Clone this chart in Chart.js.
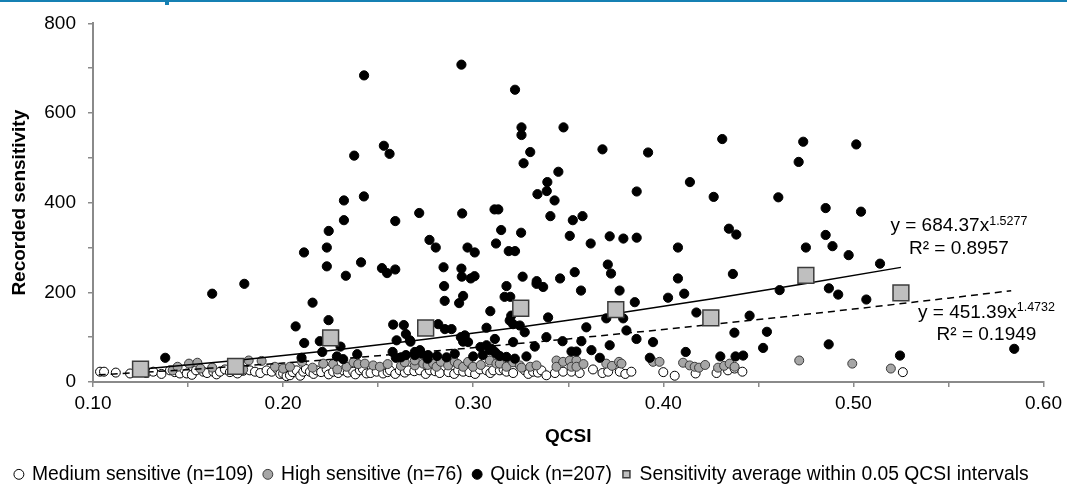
<!DOCTYPE html>
<html lang="en">
<head>
  <meta charset="UTF-8" />
  <title>QCSI vs recorded sensitivity</title>
  <script src="https://cdn.jsdelivr.net/npm/chart.js@4.4.0/dist/chart.umd.min.js"></script>
  <style>
    html, body { margin: 0; padding: 0; background: #fff; overflow: hidden; }
    #wrap { position: relative; width: 1067px; height: 488px; }
    #topline { position: absolute; left: 0; top: 0; width: 1067px; height: 2px; background: #1580b3; }
    #topmark { position: absolute; left: 165px; top: 0; width: 4px; height: 5px; background: #1580b3; }
  </style>
</head>
<body>
  <div id="wrap">
    <canvas id="chart"></canvas>
    <div id="topline"></div>
    <div id="topmark"></div>
  </div>

  <script>
    // [QCSI, recorded sensitivity]
    const mediumPts = [
      [0.1037,23],[0.1058,23],[0.1120,21],[0.1195,19],[0.1280,20],[0.1317,23],[0.1360,18],[0.1405,26],
      [0.1430,22],[0.1457,19],[0.1480,28],[0.1493,19],[0.1520,16],[0.1542,26],[0.1580,23],[0.1600,20],
      [0.1633,23],[0.1650,17],[0.1668,23],[0.1694,28],[0.1720,22],[0.1760,19],[0.1790,25],[0.1825,26],
      [0.1852,23],[0.1880,20],[0.1913,26],[0.1940,23],[0.1970,28],[0.1985,18],[0.2000,19],[0.2018,13],
      [0.2036,15],[0.2050,22],[0.2071,26],[0.2090,14],[0.2106,23],[0.2120,29],[0.2141,23],[0.2160,18],
      [0.2176,26],[0.2200,22],[0.2229,28],[0.2240,17],[0.2263,23],[0.2290,20],[0.2316,26],[0.2340,21],
      [0.2369,23],[0.2380,17],[0.2404,26],[0.2420,29],[0.2439,19],[0.2460,20],[0.2492,23],[0.2526,19],
      [0.2550,22],[0.2562,26],[0.2590,18],[0.2614,26],[0.2640,21],[0.2658,26],[0.2690,24],[0.2719,26],
      [0.2750,18],[0.2772,26],[0.2800,24],[0.2824,20],[0.2870,22],[0.2900,18],[0.2921,26],[0.2947,23],
      [0.2980,22],[0.3010,18],[0.3035,28],[0.3070,26],[0.3090,20],[0.3105,26],[0.3140,26],[0.3160,28],
      [0.3175,23],[0.3210,20],[0.3271,26],[0.3290,18],[0.3315,23],[0.3340,21],[0.3359,26],[0.3385,15],
      [0.3430,20],[0.3473,23],[0.3517,23],[0.3560,20],[0.3630,28],[0.3680,20],[0.3710,23],[0.3771,23],
      [0.3800,18],[0.3832,23],[0.4000,22],[0.4060,14],[0.4170,19],[0.4280,20],[0.4340,26],[0.4375,30],
      [0.4416,23],[0.5260,22]
    ];
    const highPts = [
      [0.1419,26],[0.1445,34],[0.1505,41],[0.1549,43],[0.1565,30],[0.1627,32],[0.1735,36],[0.1790,28],
      [0.1819,48],[0.1887,47],[0.1957,34],[0.2000,30],[0.2036,34],[0.2100,45],[0.2155,32],[0.2211,41],
      [0.2263,40],[0.2285,28],[0.2334,34],[0.2370,44],[0.2395,40],[0.2430,41],[0.2474,37],[0.2509,34],
      [0.2550,40],[0.2620,36],[0.2640,44],[0.2693,37],[0.2693,48],[0.2737,41],[0.2760,38],[0.2789,41],
      [0.2807,34],[0.2830,45],[0.2868,37],[0.2903,45],[0.2920,40],[0.2947,34],[0.2973,45],[0.2999,34],
      [0.3040,38],[0.3087,48],[0.3122,41],[0.3140,41],[0.3175,34],[0.3210,44],[0.3245,37],[0.3254,32],
      [0.3300,34],[0.3333,37],[0.3438,48],[0.3438,34],[0.3473,45],[0.3508,48],[0.3517,34],[0.3543,48],
      [0.3543,34],[0.3580,40],[0.3700,41],[0.3730,36],[0.3767,45],[0.3780,41],[0.3946,45],[0.3980,45],
      [0.4104,43],[0.4139,37],[0.4165,34],[0.4188,32],[0.4220,38],[0.4288,32],[0.4320,36],[0.4349,41],
      [0.4375,34],[0.4715,48],[0.4994,41],[0.5197,30]
    ];
    const quickPts = [
      [0.1380,54],[0.1627,197],[0.1796,219],[0.2066,124],[0.2097,54],[0.2110,289],[0.2111,87],[0.2155,177],
      [0.2193,91],[0.2206,67],[0.2230,300],[0.2230,258],[0.2239,138],[0.2240,337],[0.2283,57],[0.2302,79],
      [0.2316,51],[0.2320,405],[0.2320,361],[0.2330,237],[0.2374,505],[0.2390,62],[0.2410,267],[0.2425,414],
      [0.2426,684],[0.2520,254],[0.2530,527],[0.2547,243],[0.2560,509],[0.2576,67],[0.2579,128],[0.2590,359],
      [0.2590,251],[0.2593,54],[0.2597,93],[0.2620,55],[0.2635,127],[0.2646,107],[0.2646,60],[0.2667,93],
      [0.2670,90],[0.2693,60],[0.2693,67],[0.2720,71],[0.2716,377],[0.2728,63],[0.2760,52],[0.2763,60],
      [0.2770,317],[0.2803,300],[0.2810,58],[0.2816,129],[0.2844,256],[0.2847,214],[0.2850,181],[0.2851,118],
      [0.2860,55],[0.2886,118],[0.2903,63],[0.2926,176],[0.2935,100],[0.2938,708],[0.2938,253],[0.2940,235],
      [0.2942,376],[0.2947,192],[0.2947,90],[0.2956,104],[0.2970,300],[0.2973,89],[0.2987,231],[0.3000,57],
      [0.3007,236],[0.3008,289],[0.3038,78],[0.3050,60],[0.3070,121],[0.3070,82],[0.3087,71],[0.3090,158],
      [0.3096,74],[0.3112,385],[0.3114,96],[0.3114,67],[0.3120,309],[0.3122,63],[0.3132,385],[0.3140,58],
      [0.3147,339],[0.3165,190],[0.3175,214],[0.3175,56],[0.3187,292],[0.3192,137],[0.3195,190],[0.3200,148],
      [0.3210,129],[0.3210,89],[0.3219,52],[0.3220,652],[0.3220,292],[0.3245,126],[0.3252,333],[0.3254,568],
      [0.3254,551],[0.3260,235],[0.3265,488],[0.3271,111],[0.3280,57],[0.3300,513],[0.3324,79],[0.3333,219],
      [0.3334,225],[0.3338,419],[0.3368,212],[0.3385,100],[0.3387,426],[0.3390,446],[0.3394,144],[0.3406,370],
      [0.3428,405],[0.3448,469],[0.3457,231],[0.3470,91],[0.3475,568],[0.3508,326],[0.3517,68],[0.3524,361],
      [0.3534,245],[0.3543,68],[0.3567,204],[0.3569,91],[0.3575,370],[0.3595,122],[0.3618,309],[0.3622,71],
      [0.3666,54],[0.3680,519],[0.3700,142],[0.3708,262],[0.3718,325],[0.3718,82],[0.3725,242],[0.3770,204],
      [0.3789,142],[0.3790,320],[0.3806,115],[0.3850,178],[0.3859,96],[0.3860,425],[0.3860,322],[0.3920,512],
      [0.3929,54],[0.3946,89],[0.4025,188],[0.4077,300],[0.4077,231],[0.4110,197],[0.4118,67],[0.4140,446],
      [0.4174,155],[0.4265,413],[0.4300,57],[0.4310,542],[0.4345,342],[0.4366,241],[0.4374,110],[0.4380,57],
      [0.4384,329],[0.4420,59],[0.4454,148],[0.4525,76],[0.4545,112],[0.4605,412],[0.4612,205],[0.4712,491],
      [0.4736,536],[0.4750,300],[0.4854,388],[0.4854,328],[0.4870,84],[0.4871,209],[0.4890,303],[0.4920,195],
      [0.4975,283],[0.5015,530],[0.5040,380],[0.5068,184],[0.5140,264],[0.5245,59],[0.5846,74]
    ];

    // averages within 0.05 QCSI intervals
    const avgX = [0.125, 0.175, 0.225, 0.275, 0.325, 0.375, 0.425, 0.475, 0.525];
    const avgY = [28.6, 35, 98.5, 120.5, 164.6, 161.5, 143, 238, 199];

    // trendline read at a few points (fit to the averages, solid)
    const avgFitX = [0.125, 0.175, 0.225, 0.275, 0.325, 0.375, 0.425, 0.475, 0.525];
    const avgFitY = [28.6, 47.7, 70.1, 95.2, 122.9, 152.9, 185.2, 219.5, 255.7];
    // trendline fit to all points (dashed)
    const allFitX = [0.103, 0.15, 0.20, 0.25, 0.30, 0.35, 0.40, 0.45, 0.50, 0.55, 0.583];
    const allFitY = [15.9, 27.6, 42.2, 58.5, 76.6, 96.1, 117.1, 139.2, 162.6, 187.1, 203.6];

    const seriesNames = [
      'Medium sensitive (n=109)',
      'High sensitive (n=76)',
      'Quick (n=207)',
      'Sensitivity average within 0.05 QCSI intervals'
    ];

    const FONT = "'Liberation Sans', Arial, sans-serif";
    Chart.defaults.font.family = FONT;
    Chart.defaults.color = '#000';

    const toXY = pts => pts.map(p => ({ x: p[0], y: p[1] }));
    const zipXY = (xs, ys) => xs.map((x, i) => ({ x, y: ys[i] }));

    // equation labels next to the trendlines
    const equationLabels = {
      id: 'equationLabels',
      afterDatasetsDraw(chart) {
        const { ctx, scales: { x, y } } = chart;
        const eqs = [
          { cx: 0.5555, y1: 348, y2: 298, coef: '684.37', pow: '1.5277', r2: '0.8957' },
          { cx: 0.5700, y1: 155, y2: 106, coef: '451.39', pow: '1.4732', r2: '0.1949' }
        ];
        ctx.save();
        ctx.fillStyle = '#000';
        ctx.textBaseline = 'middle';
        ctx.textAlign = 'left';
        eqs.forEach(e => {
          const main = 'y = ' + e.coef + 'x';
          ctx.font = '19px ' + FONT;
          const wMain = ctx.measureText(main).width;
          ctx.font = '12.5px ' + FONT;
          const wPow = ctx.measureText(e.pow).width;
          const cx = x.getPixelForValue(e.cx);
          const left = cx - (wMain + wPow) / 2;
          const py1 = y.getPixelForValue(e.y1);
          ctx.font = '19px ' + FONT;
          ctx.fillText(main, left, py1);
          ctx.font = '12.5px ' + FONT;
          ctx.fillText(e.pow, left + wMain, py1 - 4.5);
          ctx.font = '19px ' + FONT;
          ctx.textAlign = 'center';
          ctx.fillText('R\u00b2 = ' + e.r2, cx, y.getPixelForValue(e.y2));
          ctx.textAlign = 'left';
        });
        ctx.restore();
      }
    };

    const axisGray = '#8a8a8a';

    new Chart(document.getElementById('chart'), {
      type: 'scatter',
      data: {
        datasets: [
          {
            label: seriesNames[0],
            data: toXY(mediumPts),
            pointStyle: 'circle',
            pointRadius: 4.5,
            borderWidth: 1,
            backgroundColor: '#ffffff',
            borderColor: '#000000',
            order: 5
          },
          {
            label: seriesNames[1],
            data: toXY(highPts),
            pointStyle: 'circle',
            pointRadius: 4.5,
            borderWidth: 1,
            backgroundColor: '#a6a6a6',
            borderColor: '#3a3a3a',
            order: 4
          },
          {
            label: seriesNames[2],
            data: toXY(quickPts),
            pointStyle: 'circle',
            pointRadius: 4.6,
            borderWidth: 1,
            backgroundColor: '#000000',
            borderColor: '#000000',
            order: 3
          },
          {
            label: seriesNames[3],
            data: zipXY(avgX, avgY),
            pointStyle: 'rect',
            pointRadius: 11.2,
            borderWidth: 1.5,
            backgroundColor: '#bfbfbf',
            borderColor: '#3c3c3c',
            order: 1
          },
          {
            label: 'fit averages',
            data: zipXY(avgFitX, avgFitY),
            showLine: true,
            pointRadius: 0,
            borderColor: '#000',
            borderWidth: 1.5,
            order: 2
          },
          {
            label: 'fit all',
            data: zipXY(allFitX, allFitY),
            showLine: true,
            pointRadius: 0,
            borderColor: '#000',
            borderWidth: 1.5,
            borderDash: [7, 5],
            order: 2
          }
        ]
      },
      options: {
        responsive: true,
        maintainAspectRatio: false,
        animation: false,
        events: [],
        layout: { padding: { top: 19, right: 23, bottom: -6, left: 0 } },
        scales: {
          x: {
            type: 'linear',
            min: 0.1,
            max: 0.6,
            border: { display: true, color: axisGray, width: 2 },
            grid: { drawOnChartArea: false, drawTicks: true, tickLength: 5, color: axisGray, lineWidth: 1.5 },
            ticks: {
              stepSize: 0.05,
              autoSkip: false,
              maxRotation: 0,
              padding: 5,
              font: { size: 19 },
              callback: v => (Math.round(v * 100) % 10 === 0 ? v.toFixed(2) : '')
            },
            title: {
              display: true,
              text: 'QCSI',
              font: { size: 19, weight: 'bold' },
              padding: { top: 0, bottom: 6 }
            },
            afterFit: s => { s.height = 71.7; }
          },
          y: {
            min: 0,
            max: 800,
            border: { display: true, color: axisGray, width: 2 },
            grid: { drawOnChartArea: false, drawTicks: true, tickLength: 5, color: axisGray, lineWidth: 1.5 },
            ticks: {
              stepSize: 100,
              padding: 12,
              font: { size: 19 },
              callback: v => (v % 200 === 0 ? v : '')
            },
            title: {
              display: true,
              text: 'Recorded sensitivity',
              font: { size: 19, weight: 'bold' },
              padding: { top: 8, bottom: 0 }
            },
            afterFit: s => { s.width = 93; }
          }
        },
        plugins: {
          tooltip: { enabled: false },
          legend: {
            position: 'bottom',
            labels: {
              usePointStyle: true,
              boxWidth: 7,
              boxHeight: 7,
              padding: 11,
              color: '#000',
              font: { size: 19.3 },
              filter: item => item.datasetIndex < 4,
              sort: (a, b) => a.datasetIndex - b.datasetIndex
            }
          }
        }
      },
      plugins: [equationLabels]
    });
  </script>
</body>
</html>
